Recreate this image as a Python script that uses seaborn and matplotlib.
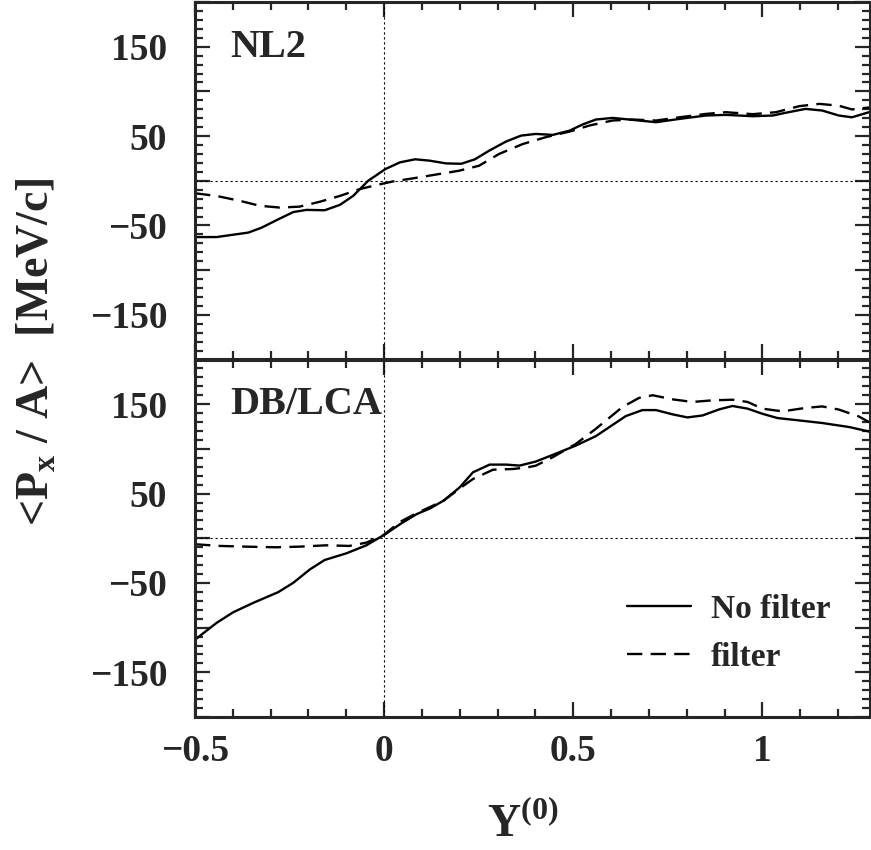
import numpy as np
import pandas as pd
import matplotlib
matplotlib.use('Agg')
import matplotlib.pyplot as plt
import seaborn as sns
from matplotlib.ticker import MultipleLocator, FixedLocator, FixedFormatter

# NL2 panel
nl2_nofilter_y = [-0.500, -0.443, -0.359, -0.324, -0.284, -0.240, -0.205, -0.157, -0.117,
                  -0.082, -0.042, 0.003, 0.042, 0.082, 0.120, 0.164, 0.204, 0.240, 0.278,
                  0.322, 0.362, 0.401, 0.446, 0.490, 0.525, 0.560, 0.604, 0.648, 0.719,
                  0.781, 0.851, 0.904, 0.975, 1.028, 1.061, 1.114, 1.158, 1.202, 1.237, 1.282]
nl2_nofilter_px = [-63, -63, -58, -52.5, -44, -35, -32.6, -33, -27,
                   -17, 0, 13, 20.6, 24, 22.5, 19.4, 19, 24, 33.7,
                   43.8, 50.5, 52.4, 51.3, 56, 63, 68.5, 70.3, 68.5, 65.5,
                   69.2, 73, 73.7, 72.2, 73, 76, 80.4, 78.6, 73, 71, 76.7]

nl2_filter_y = [-0.500, -0.443, -0.381, -0.329, -0.276, -0.224, -0.171, -0.117, -0.065,
                -0.012, 0.023, 0.075, 0.128, 0.198, 0.251, 0.304, 0.366, 0.427, 0.490,
                0.543, 0.604, 0.657, 0.719, 0.781, 0.851, 0.904, 0.975, 1.036, 1.098,
                1.151, 1.202, 1.237, 1.282]
nl2_filter_px = [-14, -17, -22.5, -28, -30, -29, -23.6, -17, -9.4,
                 -4, -0.8, 2.6, 6.3, 11.2, 16.8, 30, 41, 48.7, 55,
                 61.8, 67.4, 68.5, 67.4, 71, 74.8, 76.7, 74.5, 76.7, 83.5,
                 86, 84, 79.8, 82]

# DB/LCA panel
db_nofilter_y = [-0.500, -0.443, -0.399, -0.346, -0.280, -0.240, -0.196, -0.157, -0.100,
                 -0.047, 0.003, 0.042, 0.086, 0.121, 0.157, 0.200, 0.235, 0.279, 0.323,
                 0.358, 0.401, 0.446, 0.507, 0.560, 0.639, 0.683, 0.719, 0.763, 0.802,
                 0.842, 0.886, 0.921, 0.961, 1.000, 1.040, 1.098, 1.159, 1.230, 1.282]
db_nofilter_px = [-113.5, -94.7, -82.8, -72.3, -60.3, -49.8, -34.8, -24.3, -16.9,
                  -7.9, 4.5, 15.7, 27, 33.3, 42, 57, 73.8, 82.4, 82.4,
                  81.3, 85.8, 93.3, 103.7, 114.3, 136.7, 143.4, 143.4, 138.6, 135.2,
                  137.4, 144.2, 148, 145, 139.3, 134.5, 131.8, 128.9, 124.4, 119.4]

db_filter_y = [-0.500, -0.434, -0.364, -0.285, -0.224, -0.153, -0.092, -0.047, -0.002,
               0.042, 0.086, 0.157, 0.210, 0.235, 0.288, 0.341, 0.380, 0.401, 0.446,
               0.507, 0.560, 0.630, 0.674, 0.710, 0.763, 0.815, 0.868, 0.921, 0.961,
               1.000, 1.053, 1.114, 1.158, 1.202, 1.255, 1.282]
db_filter_px = [-6.7, -8.6, -9.4, -10.1, -9.4, -7.9, -8.6, -4.9, 3.4,
                18.3, 28, 42, 58.8, 66.3, 76.7, 77.5, 79.4, 81.2, 90.7,
                105.6, 122.5, 146.8, 157, 160, 155.4, 152.5, 154.3, 155, 152.5,
                145, 142, 145.8, 147.5, 144, 136.3, 130]

panel_names = ['NL2', 'DB/LCA']
series_names = ['No filter', 'filter']
ytick_pos = [-200, -150, -100, -50, 0, 50, 100, 150, 200]
ytick_labels = ['', '\u2212150', '', '\u221250', '', '50', '', '150', '']
xtick_pos = [-0.5, 0, 0.5, 1]
xtick_labels = ['\u22120.5', '0', '0.5', '1']


def make_frame(xs_a, ys_a, xs_b, ys_b):
    a = pd.DataFrame({'Y0': xs_a, 'px': ys_a, 'series': series_names[0]})
    b = pd.DataFrame({'Y0': xs_b, 'px': ys_b, 'series': series_names[1]})
    return pd.concat([a, b], ignore_index=True)


frames = [make_frame(nl2_nofilter_y, nl2_nofilter_px, nl2_filter_y, nl2_filter_px),
          make_frame(db_nofilter_y, db_nofilter_px, db_filter_y, db_filter_px)]

sns.set_style('ticks')
plt.rcParams['font.family'] = ['Liberation Serif', 'DejaVu Serif']
plt.rcParams['font.weight'] = 'bold'
plt.rcParams['mathtext.fontset'] = 'custom'
plt.rcParams['mathtext.rm'] = 'Liberation Serif:bold'
plt.rcParams['mathtext.bf'] = 'Liberation Serif:bold'
plt.rcParams['axes.unicode_minus'] = True

fig = plt.figure(figsize=(8.71, 8.5), dpi=100)
left, right = 195 / 871, 0.999
y_bot, y_mid, y_top = 1 - 717 / 850, 1 - 359.5 / 850, 1 - 2 / 850
ax_top = fig.add_axes([left, y_mid, right - left, y_top - y_mid])
ax_bot = fig.add_axes([left, y_bot, right - left, y_mid - y_bot], sharex=ax_top)

dash_map = {'No filter': '', 'filter': (6.5, 3.5)}

for ax, df, name in zip([ax_top, ax_bot], frames, panel_names):
    sns.lineplot(data=df, x='Y0', y='px', style='series', dashes=dash_map,
                 color='black', linewidth=1.7, estimator=None, sort=False,
                 legend=False, ax=ax)
    ax.axhline(0, color='black', linewidth=0.8, linestyle=(0, (2, 2.5)), zorder=1)
    ax.axvline(0, color='black', linewidth=0.8, linestyle=(0, (2, 2.5)), zorder=1)
    ax.set_xlim(-0.5, 1.285)
    ax.set_ylim(-200, 200)
    ax.yaxis.set_major_locator(FixedLocator(ytick_pos))
    ax.yaxis.set_major_formatter(FixedFormatter(ytick_labels))
    ax.yaxis.set_minor_locator(MultipleLocator(10))
    ax.xaxis.set_minor_locator(MultipleLocator(0.1))
    ax.tick_params(which='both', direction='in', top=True, right=True, width=1.6,
                   labelsize=27)
    ax.tick_params(which='major', length=11)
    ax.tick_params(which='minor', length=6)
    ax.tick_params(axis='y', pad=20)
    ax.tick_params(axis='x', pad=12)
    for sp in ax.spines.values():
        sp.set_linewidth(2.2)
    ax.set_xlabel('')
    ax.set_ylabel('')
    ax.text(0.052, 0.925, name, transform=ax.transAxes, ha='left', va='top',
            fontsize=29, fontweight='bold')

ax_top.xaxis.set_major_locator(FixedLocator(xtick_pos))
ax_top.xaxis.set_major_formatter(FixedFormatter(xtick_labels))
ax_top.tick_params(axis='x', labelbottom=False)

handles = ax_bot.get_lines()[:2]
ax_bot.legend(handles, series_names, loc='lower right', bbox_to_anchor=(0.985, 0.04),
              frameon=False, fontsize=24, handlelength=1.9, handletextpad=0.6,
              labelspacing=0.5)

fig.text(0.042, 0.586, r'<P$_{\mathregular{x}}$ / A>  [MeV/c]', rotation=90,
         ha='center', va='center', fontsize=33, fontweight='bold')
fig.text(0.600, 0.030, r'Y$^{\mathregular{(0)}}$', ha='center', va='center',
         fontsize=33, fontweight='bold')

fig.savefig('out.png', dpi=100)
